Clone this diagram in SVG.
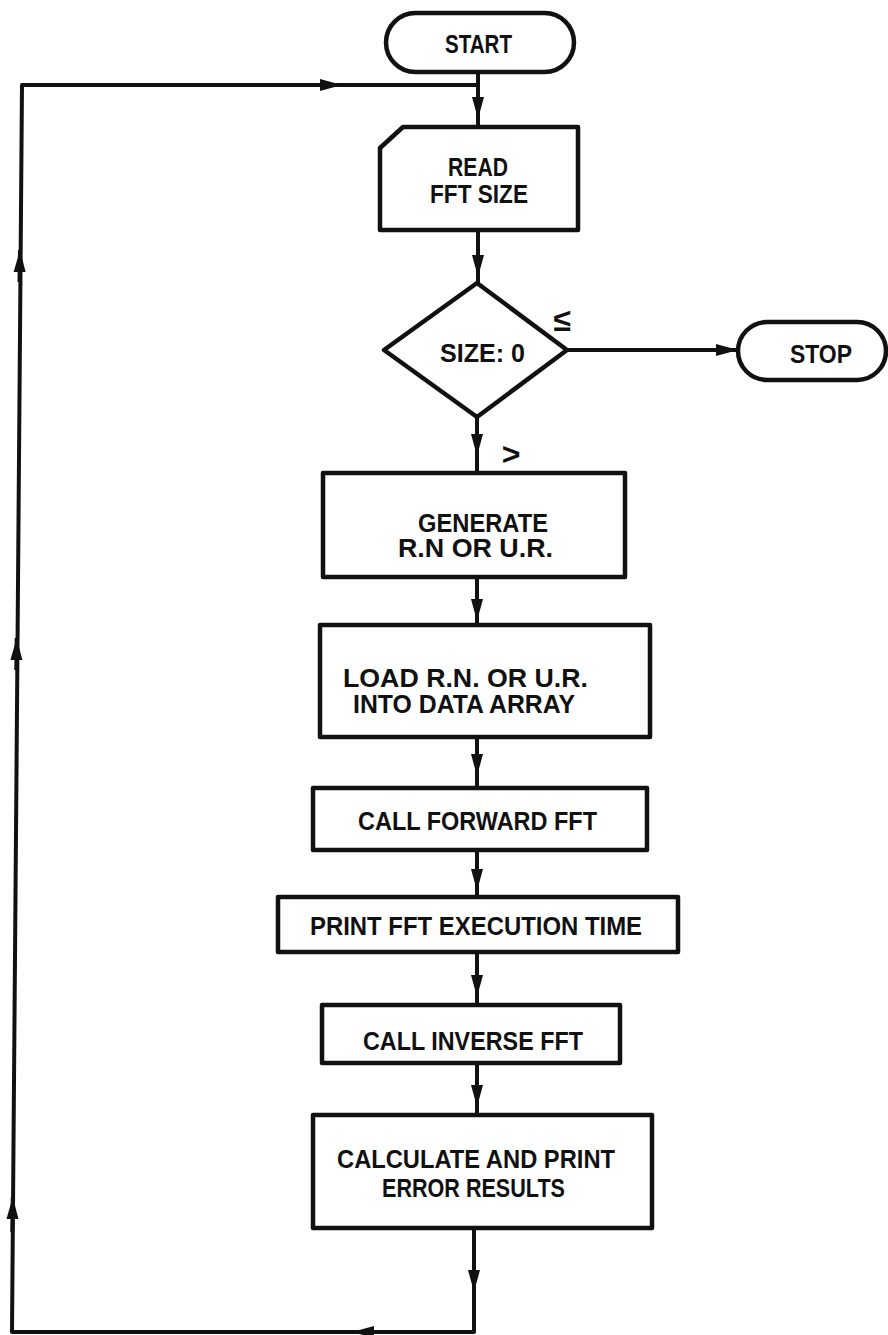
<svg xmlns="http://www.w3.org/2000/svg" width="888" height="1335" viewBox="0 0 888 1335">
<defs>
<marker id="arr" markerUnits="userSpaceOnUse" markerWidth="22" markerHeight="14" viewBox="0 0 22 14" refX="22" refY="7" orient="auto">
<path d="M0,1 L22,7 L0,13 Z" fill="#111"/>
</marker>
<style>
.shape{fill:#fff;stroke:#111;stroke-width:4.5;stroke-linejoin:round}
.ln{fill:none;stroke:#111;stroke-width:4;stroke-linejoin:round}
.ar{fill:none;stroke:#111;stroke-width:4;marker-end:url(#arr)}
text{font-family:"Liberation Sans",Arial,sans-serif;font-weight:bold;font-size:25px;fill:#111}
text.sym{font-size:32px}
</style>
</defs>
<rect width="888" height="1335" fill="#fff"/>
<g id="connectors">
<path class="ln" d="M478,72 V127"/>
<path class="ln" d="M478,85 H22 L12,1332 H474 V1228"/>
<path class="ln" d="M478,230 V283"/>
<path class="ln" d="M567,350 H738"/>
<path class="ln" d="M477,417 V473"/>
<path class="ln" d="M477,577 V625"/>
<path class="ln" d="M477,737 V788"/>
<path class="ln" d="M477,850 V897"/>
<path class="ln" d="M477,952 V1005"/>
<path class="ln" d="M477,1063 V1115"/>
<path class="ar" d="M300,85 H342"/>
<path class="ar" d="M478,95 V119"/>
<path class="ar" d="M478,250 V277"/>
<path class="ar" d="M700,350 H738"/>
<path class="ar" d="M477,425 V456"/>
<path class="ar" d="M477,590 V621"/>
<path class="ar" d="M477,745 V776"/>
<path class="ar" d="M477,860 V891"/>
<path class="ar" d="M477,965 V997"/>
<path class="ar" d="M477,1075 V1107"/>
<path class="ar" d="M474,1255 V1292"/>
<path class="ar" d="M400,1332 H352"/>
<path class="ar" d="M12.3,1232 L12.8,1197"/>
<path class="ar" d="M16.3,670 L16.7,638"/>
<path class="ar" d="M19.5,282 L20,250"/>
</g>
<g id="start">
<rect class="shape" x="386" y="13" width="188" height="59" rx="29.5"/>
<text x="445" y="53" textLength="67" lengthAdjust="spacingAndGlyphs">START</text>
</g>
<g id="read">
<path class="shape" d="M380,148 L403,127 H578 V230 H380 Z"/>
<text x="448" y="176" textLength="60" lengthAdjust="spacingAndGlyphs">READ</text>
<text x="430" y="203" textLength="98" lengthAdjust="spacingAndGlyphs">FFT SIZE</text>
</g>
<g id="decision">
<path class="shape" d="M477,283 L567,350 L477,417 L384,350 Z"/>
<text x="440" y="362" textLength="85" lengthAdjust="spacingAndGlyphs">SIZE: 0</text>
<text class="sym" x="562" y="331" text-anchor="middle">≤</text>
<text class="sym" x="511" y="465" text-anchor="middle">&gt;</text>
</g>
<g id="stop">
<rect class="shape" x="738" y="322" width="148" height="58" rx="29"/>
<text x="790" y="363" textLength="62" lengthAdjust="spacingAndGlyphs">STOP</text>
</g>
<g id="generate">
<rect class="shape" x="323" y="473" width="302" height="104"/>
<text x="418" y="532" textLength="130" lengthAdjust="spacingAndGlyphs">GENERATE</text>
<text x="398" y="557" textLength="155" lengthAdjust="spacingAndGlyphs">R.N OR U.R.</text>
</g>
<g id="load">
<rect class="shape" x="320" y="625" width="330" height="112"/>
<text x="343" y="687" textLength="245" lengthAdjust="spacingAndGlyphs">LOAD R.N. OR U.R.</text>
<text x="353" y="713" textLength="222" lengthAdjust="spacingAndGlyphs">INTO DATA ARRAY</text>
</g>
<g id="forward">
<rect class="shape" x="313" y="788" width="334" height="62"/>
<text x="358" y="830" textLength="239" lengthAdjust="spacingAndGlyphs">CALL FORWARD FFT</text>
</g>
<g id="printtime">
<rect class="shape" x="278" y="897" width="400" height="55"/>
<text x="310" y="935" textLength="332" lengthAdjust="spacingAndGlyphs">PRINT FFT EXECUTION TIME</text>
</g>
<g id="inverse">
<rect class="shape" x="322" y="1005" width="298" height="58"/>
<text x="363" y="1050" textLength="220" lengthAdjust="spacingAndGlyphs">CALL INVERSE FFT</text>
</g>
<g id="calculate">
<rect class="shape" x="313" y="1115" width="339" height="113"/>
<text x="337" y="1168" textLength="278" lengthAdjust="spacingAndGlyphs">CALCULATE AND PRINT</text>
<text x="382" y="1197" textLength="183" lengthAdjust="spacingAndGlyphs">ERROR RESULTS</text>
</g>
</svg>
